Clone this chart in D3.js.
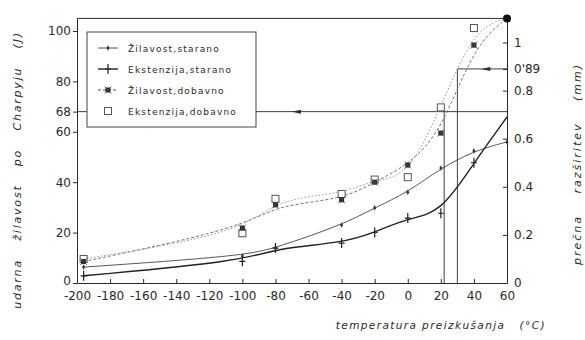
<!DOCTYPE html>
<html><head><meta charset="utf-8">
<script src="https://cdn.jsdelivr.net/npm/d3@7/dist/d3.min.js"></script>
<style>
html,body{margin:0;padding:0;background:#fff;}
svg{display:block;}
</style></head>
<body>
<svg id="chart" width="585" height="340"></svg>
<script>
// ---- data ----
const temps = [-196, -100, -80, -40, -20, 0, 20, 40, 60];
const zilStarano  = [6.3, 10.7, 13.9, 23, 29.8, 36, 45.6, 52.4, 56];        // J
const ekstStarano = [0.03, 0.09, 0.145, 0.166, 0.21, 0.27, 0.29, 0.5, 0.69]; // mm
const zilDobavno  = [8.5, 21.8, 31, 33, 40, 46.8, 59.5, 94.4, 105];          // J
const ekstDobavno = [0.1, 0.207, 0.35, 0.37, 0.43, 0.44, 0.73, 1.06, 1.1];   // mm
const xTicks = [-200,-180,-160,-140,-120,-100,-80,-60,-40,-20,0,20,40,60];
const leftTicks = [0,20,40,60,68,80,100];
const rightTicks = [0,0.2,0.4,0.6,0.8,0.89,1];
const rightTickLabels = ["0","0.2","0.4","0.6","0.8","0'89","1"];
const critZil = 68, critEkst = 0.89;
const critTemps = [22, 30];
const legendLabels = ["Žilavost,starano","Ekstenzija,starano","Žilavost,dobavno","Ekstenzija,dobavno"];

const svg = d3.select("#chart");
const ink = "#2a2a2a";
const x = d3.scaleLinear().domain([-200,60]).range([77,507]);
const yL = d3.scaleLinear().domain([0,105]).range([283,18.4]);
const yR = d3.scaleLinear().domain([0,1.1]).range([283,18.4]);

// frame top
svg.append("line").attr("x1",x(-200)).attr("x2",x(60)).attr("y1",yL(105)).attr("y2",yL(105))
  .attr("stroke",ink).attr("stroke-width",1);

// axes
const tickFont = g => g.selectAll("text").attr("font-family","DejaVu Sans, sans-serif")
  .attr("font-size",12).attr("fill",ink);
const plain = d => String(d);
const left = svg.append("g").attr("transform",`translate(${x(-200)},0)`)
  .call(d3.axisLeft(yL).tickValues(leftTicks).tickSizeInner(4).tickSizeOuter(0).tickPadding(2).tickFormat(plain));
left.call(tickFont);
left.selectAll(".tick").filter(d=>d===0).select("text").attr("dy","0.1em");
const bottom = svg.append("g").attr("transform",`translate(0,${yL(0)})`)
  .call(d3.axisBottom(x).tickValues(xTicks).tickSizeInner(-4).tickSizeOuter(0).tickPadding(8).tickFormat(plain));
bottom.call(tickFont);
const right = svg.append("g").attr("transform",`translate(${x(60)},0)`)
  .call(d3.axisRight(yR).tickValues(rightTicks).tickSizeInner(-4).tickSizeOuter(0).tickPadding(7)
    .tickFormat((d,i)=>rightTickLabels[i]));
right.call(tickFont);
[left,bottom,right].forEach(g=>{g.selectAll("path,line").attr("stroke",ink);});

// critical annotation lines
const ann = svg.append("g").attr("stroke",ink).attr("stroke-width",0.9).attr("fill","none");
ann.append("line").attr("x1",x(-200)).attr("x2",x(60)).attr("y1",yL(critZil)).attr("y2",yL(critZil));
ann.append("line").attr("x1",x(critTemps[0])).attr("x2",x(critTemps[0])).attr("y1",yL(critZil)).attr("y2",yL(0));
ann.append("line").attr("x1",x(critTemps[1])).attr("x2",x(critTemps[1])).attr("y1",yR(critEkst)).attr("y2",yR(0));
ann.append("line").attr("x1",x(critTemps[1])).attr("x2",x(60)).attr("y1",yR(critEkst)).attr("y2",yR(critEkst));
function arrow(cx, cy){
  svg.append("path").attr("d",`M${cx-5},${cy} L${cx+4},${cy-2} L${cx+4},${cy+2} Z`).attr("fill",ink);
}
arrow(x(-67), yL(critZil));
arrow(x(47.5), yR(critEkst));

// lines
const pts = (vals, ys) => temps.map((t,i)=>[x(t), ys(vals[i])]);
const line = d3.line().curve(d3.curveBasis);
svg.append("path").attr("d",line(pts(zilDobavno,yL))).attr("fill","none")
  .attr("stroke","#777").attr("stroke-width",1).attr("stroke-dasharray","3,2");
svg.append("path").attr("d",line(pts(ekstDobavno,yR))).attr("fill","none")
  .attr("stroke","#999").attr("stroke-width",1).attr("stroke-dasharray","1.5,2");
svg.append("path").attr("d",line(pts(zilStarano,yL))).attr("fill","none")
  .attr("stroke","#444").attr("stroke-width",0.9);
svg.append("path").attr("d",line(pts(ekstStarano,yR))).attr("fill","none")
  .attr("stroke","#222").attr("stroke-width",1.4);

// markers
function mSmall(g,cx,cy){ g.append("line").attr("x1",cx).attr("x2",cx).attr("y1",cy-2.5).attr("y2",cy+2.5).attr("stroke","#444").attr("stroke-width",1);
  g.append("circle").attr("cx",cx).attr("cy",cy).attr("r",1.4).attr("fill","#333"); }
function mPlus(g,cx,cy){ g.append("path").attr("d",`M${cx},${cy-5}V${cy+5}M${cx-3},${cy}H${cx+3}`).attr("stroke","#222").attr("stroke-width",1.2); }
function mStar(g,cx,cy){ g.append("rect").attr("x",cx-2.5).attr("y",cy-2.5).attr("width",5).attr("height",5).attr("fill","#222");
  g.append("path").attr("d",`M${cx-3.5},${cy-3.5}L${cx+3.5},${cy+3.5}M${cx+3.5},${cy-3.5}L${cx-3.5},${cy+3.5}`).attr("stroke","#555").attr("stroke-width",0.8); }
function mSquare(g,cx,cy){ g.append("rect").attr("x",cx-3.5).attr("y",cy-3.5).attr("width",7).attr("height",7).attr("fill","#fff").attr("stroke","#555").attr("stroke-width",1); }
const mk = svg.append("g");
temps.forEach((t,i)=>{
  if(i<temps.length-1){
    mSquare(mk,x(t),yR(ekstDobavno[i]));
    mStar(mk,x(t),yL(zilDobavno[i]));
  }
  mSmall(mk,x(t),yL(zilStarano[i]));
  if(i<temps.length-1) mPlus(mk,x(t),yR(ekstStarano[i]));
});
svg.append("circle").attr("cx",x(60)).attr("cy",yL(zilDobavno[zilDobavno.length-1])).attr("r",4).attr("fill","#111");

// legend
const lg = svg.append("g");
lg.append("rect").attr("x",87).attr("y",32).attr("width",169).attr("height",95)
  .attr("fill","#fff").attr("stroke","#444").attr("stroke-width",1);
const makers = [mSmall,mPlus,mStar,mSquare];
const lstyles = [{s:"#444",w:0.9,d:null},{s:"#222",w:1.4,d:null},{s:"#555",w:1,d:"3,2"},null];
legendLabels.forEach((lab,i)=>{
  const cy = 48 + i*21;
  if(lstyles[i]) lg.append("line").attr("x1",98).attr("x2",118).attr("y1",cy).attr("y2",cy)
     .attr("stroke",lstyles[i].s).attr("stroke-width",lstyles[i].w).attr("stroke-dasharray",lstyles[i].d);
  makers[i](lg,108,cy);
  lg.append("text").attr("x",128).attr("y",cy+3.5).text(lab)
    .attr("font-family","DejaVu Sans, sans-serif").attr("font-size",9).attr("letter-spacing",1.2).attr("fill",ink);
});

// axis titles
svg.append("text").attr("transform","translate(21,170) rotate(-90)").attr("text-anchor","middle")
  .attr("font-family","DejaVu Sans, sans-serif").attr("font-style","italic").attr("font-size",11)
  .attr("letter-spacing",1.8).attr("word-spacing",13).attr("fill",ink)
  .text("udarna žilavost po Charpyju (J)");
svg.append("text").attr("transform","translate(581,164) rotate(-90)").attr("text-anchor","middle")
  .attr("font-family","DejaVu Sans, sans-serif").attr("font-style","italic").attr("font-size",11)
  .attr("letter-spacing",2).attr("word-spacing",16).attr("fill",ink)
  .text("prečna razširitev (mm)");
svg.append("text").attr("x",546).attr("y",329).attr("text-anchor","end")
  .attr("font-family","DejaVu Sans, sans-serif").attr("font-style","italic").attr("font-size",10.5)
  .attr("letter-spacing",1.4).attr("fill",ink).attr("xml:space","preserve")
  .text("temperatura preizkušanja   (°C)");
</script>
</body></html>
